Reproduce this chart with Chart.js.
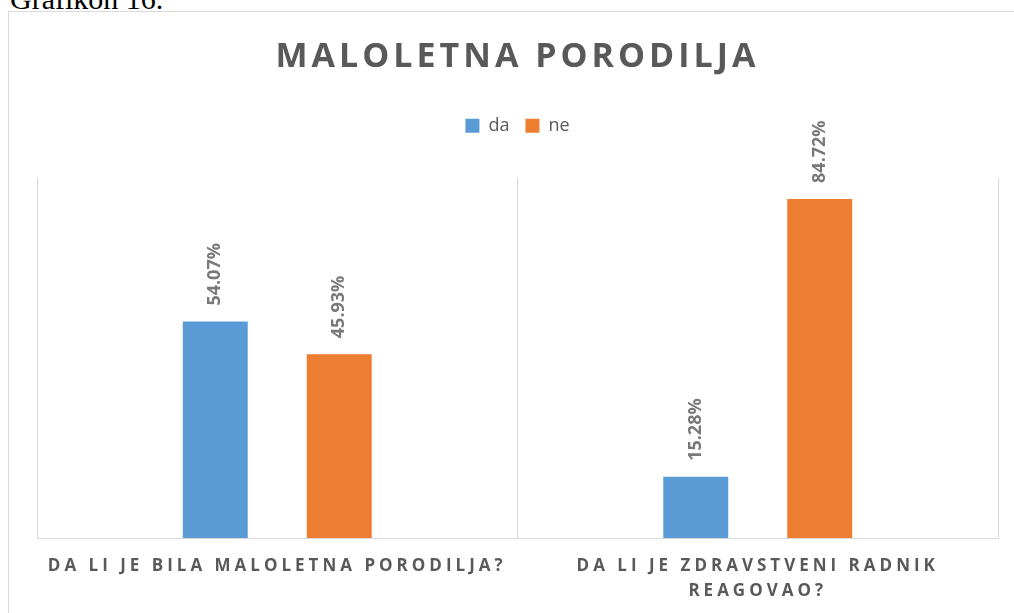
<!DOCTYPE html>
<html>
<head>
<meta charset="utf-8">
<script src="https://cdn.jsdelivr.net/npm/chart.js@4"></script>
<style>
  body { margin: 0; background: #fff; }
  #wrap { position: relative; width: 1014px; height: 613px; overflow: hidden; }
  #caption { position: absolute; left: 10px; top: -16px; font: 30px/30px "Liberation Serif", "Times New Roman", serif; color: #000; }
  #frame { position: absolute; left: 8px; top: 11px; width: 1100px; height: 700px; border: 1px solid #d9d9d9; }
  #chart { position: absolute; left: 0; top: 0; }
</style>
</head>
<body>
<div id="wrap">
  <div id="caption">Grafikon 16.</div>
  <div id="frame"></div>
  <canvas id="chart" width="1014" height="613"></canvas>
</div>
<script>
const categories = [
  ["DA LI JE BILA MALOLETNA PORODILJA?"],
  ["DA LI JE ZDRAVSTVENI RADNIK", "REAGOVAO?"]
];
const seriesNames = ["da", "ne"];
const daValues = [54.07, 15.28];
const neValues = [45.93, 84.72];

// rotated value labels above each bar
const barLabels = {
  id: "barLabels",
  afterDatasetsDraw(chart) {
    const ctx = chart.ctx;
    chart.data.datasets.forEach((ds, i) => {
      chart.getDatasetMeta(i).data.forEach((bar, j) => {
        ctx.save();
        ctx.translate(bar.x, bar.y - 16);
        ctx.rotate(-Math.PI / 2);
        ctx.font = 'bold 18px "Open Sans"';
        ctx.fillStyle = "#797979";
        ctx.textAlign = "left";
        ctx.textBaseline = "middle";
        ctx.fillText(ds.data[j].toFixed(2) + "%", 0, 0);
        ctx.restore();
      });
    });
  }
};

// letter spacing for title and category labels, extra gap under legend
const spacing = {
  id: "spacing",
  beforeLayout(chart) {
    const lg = chart.legend;
    if (lg && !lg._gap) {
      const fit = lg.fit.bind(lg);
      lg.fit = function () { fit(); this.height += 33; };
      lg._gap = true;
    }
  },
  beforeDraw(chart) {
    const tb = chart.titleBlock;
    if (tb && !tb._sp) {
      const draw = tb.draw.bind(tb);
      tb.draw = function (a) { const c = chart.ctx; c.save(); c.letterSpacing = "4px"; draw(a); c.restore(); };
      tb._sp = true;
    }
    const xs = chart.scales.x;
    if (xs && !xs._sp) {
      const dl = xs.drawLabels.bind(xs);
      xs.drawLabels = function (a) { const c = chart.ctx; c.save(); c.letterSpacing = "4px"; dl(a); c.restore(); };
      xs._sp = true;
    }
  }
};

new Chart(document.getElementById("chart"), {
  type: "bar",
  data: {
    labels: categories,
    datasets: [
      { label: seriesNames[0], data: daValues, backgroundColor: "#5B9BD5" },
      { label: seriesNames[1], data: neValues, backgroundColor: "#ED7D31" }
    ]
  },
  options: {
    responsive: false,
    animation: false,
    categoryPercentage: 0.516,
    barPercentage: 0.524,
    layout: { padding: { left: 37, right: 16, top: 0, bottom: -7 } },
    plugins: {
      title: {
        display: true,
        text: "MALOLETNA PORODILJA",
        color: "#595959",
        font: { family: "Open Sans", size: 34, weight: "bold", lineHeight: 1.2 },
        padding: { top: 37, bottom: 23 }
      },
      legend: {
        display: true,
        labels: {
          color: "#595959",
          font: { family: "Open Sans", size: 18 },
          boxWidth: 14,
          boxHeight: 14,
          padding: 16
        }
      },
      tooltip: { enabled: false }
    },
    scales: {
      x: {
        grid: { display: true, color: "#d9d9d9", drawTicks: false, offset: true },
        border: { display: true, color: "#d9d9d9" },
        ticks: {
          color: "#595959",
          maxRotation: 0,
          padding: 16,
          font: { family: "Open Sans", size: 17, weight: "bold", lineHeight: "25px" }
        }
      },
      y: {
        display: false,
        min: 0,
        max: 90
      }
    }
  },
  plugins: [barLabels, spacing]
});
</script>
</body>
</html>
